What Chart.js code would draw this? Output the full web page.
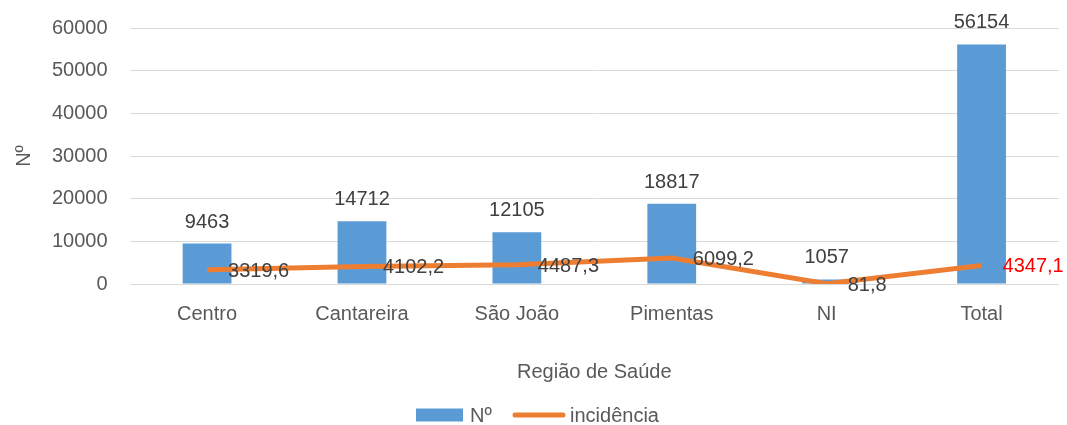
<!DOCTYPE html>
<html>
<head>
<meta charset="utf-8">
<script src="https://cdn.jsdelivr.net/npm/chart.js@4.4.1/dist/chart.umd.min.js"></script>
<style>
  html, body { margin: 0; padding: 0; background: #fff; }
  #wrap { width: 1067px; height: 425px; }
</style>
</head>
<body>
<div id="wrap"><canvas id="chart"></canvas></div>
<script>
const regioes = ["Centro", "Cantareira", "São João", "Pimentas", "NI", "Total"];
const numeros = [9463, 14712, 12105, 18817, 1057, 56154];
const incidencia = [3319.6, 4102.2, 4487.3, 6099.2, 81.8, 4347.1];
const yTicks = [0, 10000, 20000, 30000, 40000, 50000, 60000];

const textGrey = "#595959";
const labelGrey = "#404040";
const barBlue = "#5B9BD5";
const lineOrange = "#ED7D31";
const fontFam = "'Liberation Sans', Arial, sans-serif";

// labels next to bars and line points
const valueLabels = {
  id: "valueLabels",
  afterDatasetsDraw(chart) {
    const ctx = chart.ctx;
    ctx.save();
    ctx.font = "20px " + fontFam;
    ctx.textBaseline = "alphabetic";

    chart.getDatasetMeta(0).data.forEach((bar, i) => {
      ctx.fillStyle = labelGrey;
      ctx.textAlign = "center";
      ctx.fillText(String(numeros[i]), bar.x, bar.y - 16);
    });

    chart.getDatasetMeta(1).data.forEach((pt, i) => {
      ctx.fillStyle = i === incidencia.length - 1 ? "#FF0000" : labelGrey;
      ctx.textAlign = "left";
      ctx.fillText(String(incidencia[i]).replace(".", ","), pt.x + 21, pt.y + 7);
    });
    ctx.restore();
  }
};

// simple legend under the axis title
const bottomLegend = {
  id: "bottomLegend",
  afterDraw(chart) {
    const ctx = chart.ctx;
    const y = 415;
    ctx.save();
    ctx.font = "20px " + fontFam;
    ctx.textBaseline = "middle";
    ctx.textAlign = "left";

    ctx.fillStyle = barBlue;
    ctx.fillRect(416, y - 6.5, 47, 13);
    ctx.fillStyle = textGrey;
    ctx.fillText(chart.data.datasets[0].label, 470, y + 1);

    ctx.strokeStyle = lineOrange;
    ctx.lineWidth = 5;
    ctx.lineCap = "round";
    ctx.beginPath();
    ctx.moveTo(515, y);
    ctx.lineTo(563, y);
    ctx.stroke();
    ctx.fillText(chart.data.datasets[1].label, 570, y + 1);
    ctx.restore();
  }
};

new Chart(document.getElementById("chart"), {
  type: "bar",
  data: {
    labels: regioes,
    datasets: [
      {
        label: "Nº",
        data: numeros,
        backgroundColor: barBlue,
        categoryPercentage: 1,
        barPercentage: 0.315,
        order: 1
      },
      {
        type: "line",
        label: "incidência",
        data: incidencia,
        borderColor: lineOrange,
        backgroundColor: lineOrange,
        borderWidth: 5,
        pointRadius: 0,
        tension: 0,
        order: 0
      }
    ]
  },
  options: {
    responsive: true,
    maintainAspectRatio: false,
    animation: false,
    layout: { padding: { top: 28, right: 8, left: 0, bottom: 33 } },
    plugins: {
      tooltip: { enabled: false },
      legend: { display: false }
    },
    scales: {
      x: {
        grid: { display: false },
        border: { display: false },
        ticks: { color: textGrey, font: { size: 20, family: fontFam }, padding: 10 },
        title: {
          display: true,
          text: "Região de Saúde",
          color: textGrey,
          font: { size: 20, family: fontFam },
          padding: { top: 24, bottom: 8 }
        }
      },
      y: {
        min: 0,
        max: 60000,
        afterBuildTicks: axis => { axis.ticks = yTicks.map(v => ({ value: v })); },
        afterFit: axis => { axis.paddingTop = 0; },
        grid: { color: "#D9D9D9", lineWidth: 1, drawTicks: false },
        border: { display: false },
        ticks: {
          color: textGrey,
          font: { size: 20, family: fontFam },
          padding: 22,
          callback: v => String(v)
        },
        title: {
          display: true,
          text: "Nº",
          color: textGrey,
          font: { size: 20, family: fontFam },
          padding: { top: 12, bottom: -6 }
        }
      }
    }
  },
  plugins: [valueLabels, bottomLegend]
});
</script>
</body>
</html>
